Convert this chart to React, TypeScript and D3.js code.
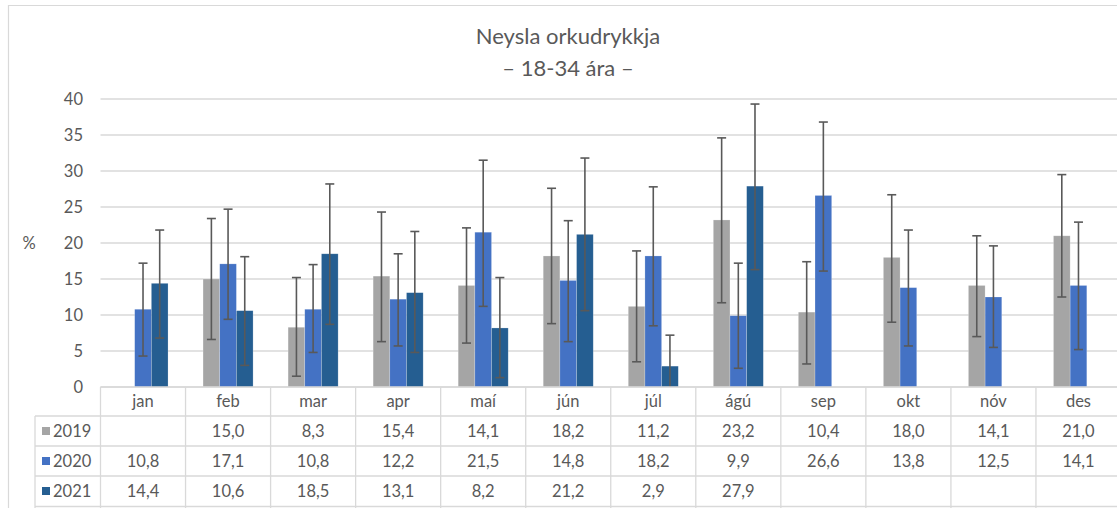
import React from 'react';
import * as d3 from 'd3';

const months = ['jan', 'feb', 'mar', 'apr', 'maí', 'jún', 'júl', 'ágú', 'sep', 'okt', 'nóv', 'des'];
const seriesNames = ['2019', '2020', '2021'];
const seriesColors = ['#A5A5A5', '#4472C4', '#255E91'];

const values2019 = [null, 15.0, 8.3, 15.4, 14.1, 18.2, 11.2, 23.2, 10.4, 18.0, 14.1, 21.0];
const values2020 = [10.8, 17.1, 10.8, 12.2, 21.5, 14.8, 18.2, 9.9, 26.6, 13.8, 12.5, 14.1];
const values2021 = [14.4, 10.6, 18.5, 13.1, 8.2, 21.2, 2.9, 27.9, null, null, null, null];

// error bar ends
const high2019 = [null, 23.4, 15.2, 24.3, 22.1, 27.6, 18.9, 34.6, 17.4, 26.7, 21.0, 29.5];
const low2019 = [null, 6.6, 1.5, 6.3, 6.1, 8.8, 3.5, 11.7, 3.2, 9.0, 7.0, 12.5];
const high2020 = [17.2, 24.7, 17.0, 18.5, 31.5, 23.1, 27.8, 17.2, 36.8, 21.8, 19.6, 22.9];
const low2020 = [4.3, 9.4, 4.8, 5.7, 11.2, 6.3, 8.5, 2.6, 16.1, 5.7, 5.5, 5.2];
const high2021 = [21.8, 18.1, 28.2, 21.6, 15.2, 31.8, 7.2, 39.3, null, null, null, null];
const low2021 = [6.8, 3.0, 8.7, 4.8, 1.3, 10.6, -1.4, 16.3, null, null, null, null];

const yTicks = [0, 5, 10, 15, 20, 25, 30, 35, 40];

const allValues = [values2019, values2020, values2021];
const allHigh = [high2019, high2020, high2021];
const allLow = [low2019, low2020, low2021];

const W = 1117;
const H = 508;
const FONT = 'Lato, "Open Sans", sans-serif';
const TEXT = '#595959';
const LINE = '#D9D9D9';

const fmt = (v: number) => v.toFixed(1).replace('.', ',');

export default function App() {
  const left = 100.5;
  const right = 1121;
  const top = 99;
  const bottom = 387;

  const x = d3.scaleBand().domain(months).range([left, right]).padding(0);
  const xs = d3.scaleBand().domain(seriesNames).range([0, x.bandwidth()]).paddingInner(0).paddingOuter(1.05);
  const y = d3.scaleLinear().domain([0, 40]).range([bottom, top]);

  const rowTops = [416, 446, 476];
  const rowH = 30;
  const tableBottom = 506.5;

  return (
    <svg width={W} height={H} style={{ position: 'absolute', left: 0, top: 0, background: '#fff' }} fontFamily={FONT}>
      <rect x={0} y={0} width={W} height={H} fill="#fff" />
      {/* chart border, cut off at right and bottom */}
      <line x1={8} y1={5.5} x2={W} y2={5.5} stroke={LINE} strokeWidth={1.2} />
      <line x1={8.5} y1={5} x2={8.5} y2={H} stroke={LINE} strokeWidth={1.2} />

      <text x={568} y={44} textAnchor="middle" fontSize={22} fill={TEXT}>Neysla orkudrykkja</text>
      <text x={568} y={76} textAnchor="middle" fontSize={22} fill={TEXT}>– 18-34 ára –</text>

      {yTicks.map((t) => (
        <g key={t}>
          <line x1={left} x2={W} y1={y(t)} y2={y(t)} stroke={LINE} strokeWidth={1.3} />
          <text x={83} y={y(t)} dy="0.35em" textAnchor="end" fontSize={16.5} fill={TEXT}>{t}</text>
        </g>
      ))}
      <text x={29} y={243} dy="0.35em" textAnchor="middle" fontSize={16.5} fill={TEXT}>%</text>

      {/* bars */}
      {seriesNames.map((s, si) =>
        months.map((m, mi) => {
          const v = allValues[si][mi];
          if (v == null) return null;
          const bx = (x(m) as number) + (xs(s) as number);
          return (
            <rect
              key={s + m}
              x={bx}
              y={y(v)}
              width={xs.bandwidth()}
              height={y(0) - y(v)}
              fill={seriesColors[si]}
              stroke="#ffffff"
              strokeOpacity={0.35}
              strokeWidth={0.6}
            />
          );
        })
      )}

      {/* error bars */}
      {seriesNames.map((s, si) =>
        months.map((m, mi) => {
          const hi = allHigh[si][mi];
          const lo = allLow[si][mi];
          if (hi == null || lo == null) return null;
          const cx = (x(m) as number) + (xs(s) as number) + xs.bandwidth() / 2;
          const loC = Math.max(lo, 0);
          return (
            <g key={'e' + s + m} stroke="#595959" strokeWidth={1.6}>
              <line x1={cx} x2={cx} y1={y(hi)} y2={y(loC)} />
              <line x1={cx - 4.5} x2={cx + 4.5} y1={y(hi)} y2={y(hi)} />
              {lo >= 0 && <line x1={cx - 4.5} x2={cx + 4.5} y1={y(lo)} y2={y(lo)} />}
            </g>
          );
        })
      )}

      {/* data table */}
      <g stroke={LINE} strokeWidth={1.3}>
        <line x1={left} x2={W} y1={bottom} y2={bottom} />
        {rowTops.map((r) => (
          <line key={r} x1={35} x2={W} y1={r} y2={r} />
        ))}
        <line x1={35} x2={W} y1={tableBottom} y2={tableBottom} />
        <line x1={35} x2={35} y1={rowTops[0]} y2={H} />
        {months.map((m) => (
          <line key={m} x1={x(m)} x2={x(m)} y1={bottom} y2={H} />
        ))}
      </g>
      {months.map((m) => (
        <text
          key={'c' + m}
          x={(x(m) as number) + x.bandwidth() / 2}
          y={401.5}
          dy="0.35em"
          textAnchor="middle"
          fontSize={16.5}
          fill={TEXT}
        >
          {m}
        </text>
      ))}
      {seriesNames.map((s, si) => (
        <g key={'row' + s}>
          <rect x={42} y={rowTops[si] + rowH / 2 - 4} width={8} height={8} fill={seriesColors[si]} />
          <text x={53} y={rowTops[si] + rowH / 2} dy="0.35em" fontSize={16.5} fill={TEXT}>{s}</text>
          {months.map((m, mi) => {
            const v = allValues[si][mi];
            if (v == null) return null;
            return (
              <text
                key={'v' + s + m}
                x={(x(m) as number) + x.bandwidth() / 2}
                y={rowTops[si] + rowH / 2}
                dy="0.35em"
                textAnchor="middle"
                fontSize={16.5}
                fill={TEXT}
              >
                {fmt(v)}
              </text>
            );
          })}
        </g>
      ))}
    </svg>
  );
}
